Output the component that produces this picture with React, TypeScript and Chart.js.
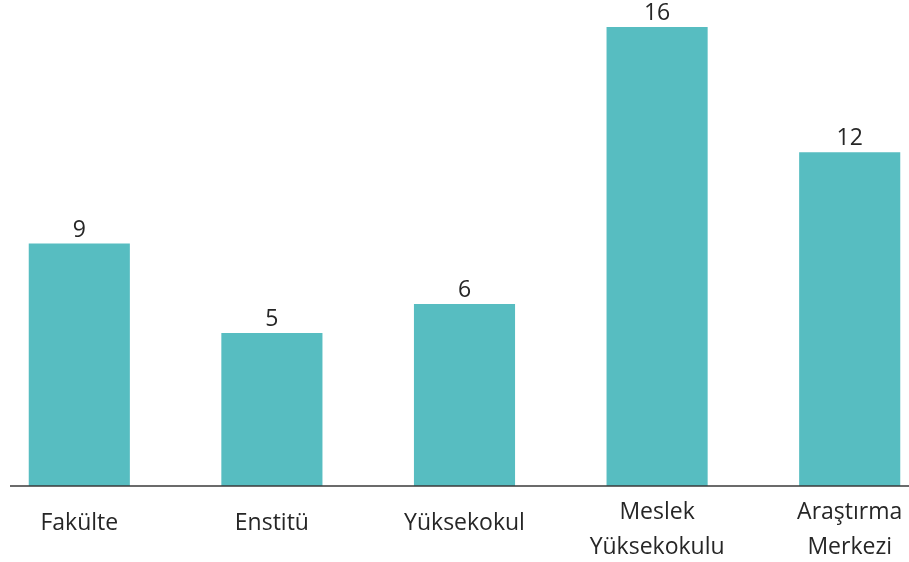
import React, { useEffect, useRef } from "react";
import { Chart, registerables } from "chart.js";

Chart.register(...registerables);

const categories: (string | string[])[] = [
  "Fakülte",
  "Enstitü",
  "Yüksekokul",
  ["Meslek", "Yüksekokulu"],
  ["Araştırma", "Merkezi"],
];
// bar heights (axis units)
const barValues = [8.98, 5.67, 6.74, 17.0, 12.36];
// value labels printed above the bars
const valueLabels = ["9", "5", "6", "16", "12"];

const BAR_COLOR = "#57BDC1";
const TEXT_COLOR = "#262626";
const FONT = "'Open Sans', sans-serif";

const CANVAS_W = 963;
const CANVAS_H = 574;
const CANVAS_LEFT = -17;

export default function App() {
  const ref = useRef<HTMLCanvasElement | null>(null);

  useEffect(() => {
    document.body.style.margin = "0";
    const canvas = ref.current;
    if (!canvas) return;

    const valueLabelPlugin = {
      id: "valueLabels",
      afterDatasetsDraw(chart: any) {
        const ctx = chart.ctx;
        const meta = chart.getDatasetMeta(0);
        ctx.save();
        ctx.fillStyle = TEXT_COLOR;
        ctx.font = `23px ${FONT}`;
        ctx.textAlign = "center";
        ctx.textBaseline = "alphabetic";
        meta.data.forEach((bar: any, i: number) => {
          ctx.fillText(valueLabels[i], bar.x, bar.y - 7);
        });
        ctx.restore();
      },
    };

    const baselinePlugin = {
      id: "baseline",
      afterDatasetsDraw(chart: any) {
        const ctx = chart.ctx;
        const y = chart.chartArea.bottom;
        ctx.save();
        ctx.strokeStyle = "#3a3a3a";
        ctx.lineWidth = 1.6;
        ctx.beginPath();
        ctx.moveTo(10 - CANVAS_LEFT, y);
        ctx.lineTo(chart.width, y);
        ctx.stroke();
        ctx.restore();
      },
    };

    const chart = new Chart(canvas, {
      type: "bar",
      data: {
        labels: categories as any,
        datasets: [
          {
            data: barValues,
            backgroundColor: BAR_COLOR,
            borderWidth: 0,
            categoryPercentage: 1,
            barPercentage: 0.525,
          },
        ],
      },
      options: {
        animation: false,
        responsive: false,
        devicePixelRatio: 1,
        layout: { padding: 0 },
        plugins: {
          legend: { display: false },
          tooltip: { enabled: false },
        },
        scales: {
          x: {
            offset: true,
            grid: { display: false, drawTicks: false },
            border: { display: false },
            ticks: {
              color: TEXT_COLOR,
              padding: 9,
              maxRotation: 0,
              autoSkip: false,
              font: (c: any) => ({
                family: FONT,
                size: 23,
                lineHeight: Array.isArray(categories[c.index]) ? "35px" : "56px",
              }),
            },
          },
          y: {
            display: false,
            min: 0,
            max: 18,
          },
        },
      },
      plugins: [valueLabelPlugin, baselinePlugin],
    });

    return () => chart.destroy();
  }, []);

  return (
    <div style={{ position: "relative", width: 909, height: 562, overflow: "hidden" }}>
      <canvas
        ref={ref}
        width={CANVAS_W}
        height={CANVAS_H}
        style={{ position: "absolute", left: CANVAS_LEFT, top: 0 }}
      />
    </div>
  );
}
